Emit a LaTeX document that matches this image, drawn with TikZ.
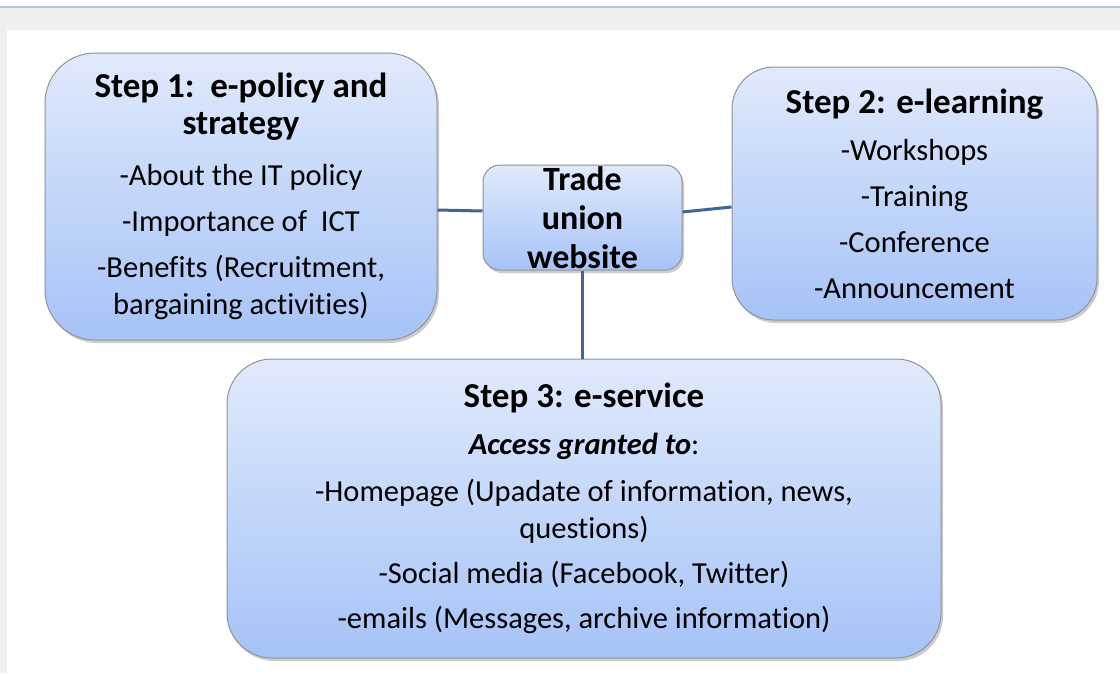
\documentclass[tikz,border=0pt]{standalone}
\usepackage{fontspec}
\setmainfont{Carlito}[Ligatures={TeX,NoCommon}]
\usetikzlibrary{shadows}
\definecolor{boxtop}{HTML}{E0EAFC}
\definecolor{boxbot}{HTML}{A6C3F7}
\definecolor{linkblue}{HTML}{3E6697}
\definecolor{pagegray}{HTML}{F0EFED}
\definecolor{topline}{HTML}{A9C2EE}
\tikzstyle{stepbox}=[rectangle, draw=gray!85, line width=1pt, top color=boxtop, bottom color=boxbot, align=center, inner sep=0, drop shadow={opacity=0.4, shadow xshift=2pt, shadow yshift=-3pt}]
\tikzstyle{link}=[linkblue, line width=3pt]
\newcommand{\ttl}{\fontsize{35}{37}\selectfont\bfseries}
\newcommand{\txt}{\fontsize{30.5}{37}\selectfont}
\newcommand{\hub}{\fontsize{34}{39}\selectfont\bfseries}

\begin{document}
\begin{tikzpicture}[x=1pt,y=-1pt]
\useasboundingbox (0,0) rectangle (1120,673);
\fill[pagegray] (0,7) rectangle (1120,673);
\fill[white] (7,30) rectangle (1120,673);
\draw[topline, line width=2pt] (0,7) -- (1120,7);

\node[stepbox, font=\txt, rounded corners=50, minimum width=392, minimum height=287] (pol) at (241,196.5)
  {\ttl Step 1:\ \ e-policy and\\ \ttl strategy\\[14pt]
   -About the IT policy\\[9pt]
   -Importance of\ \ ICT\\[9pt]
   -Benefits (Recruitment,\\ bargaining activities)};
\node[stepbox, rounded corners=17, minimum width=199, minimum height=105,
  label={[font=\hub, align=center]center:Trade\\union\\website}] (web) at (582.5,217.5) {};
\node[stepbox, font=\txt, rounded corners=42, minimum width=365, minimum height=253] (lrn) at (914.5,193.5)
  {\ttl Step 2: e-learning\\[10pt]
   -Workshops\\[9pt] -Training\\[9pt] -Conference\\[9pt] -Announcement};
\node[stepbox, font=\txt, rounded corners=45, minimum width=714, minimum height=299] (srv) at (584,508.5)
  {\ttl Step 3: e-service\\[10pt]
   \textbf{\textit{Access granted to}}:\\[10pt]
   -Homepage (Upadate of information, news,\\ questions)\\[8pt]
   -Social media (Facebook, Twitter)\\[8pt]
   -emails (Messages, archive information)};

% links to the hub
\draw[link] ([yshift=-13.5pt]pol.east) -- ([yshift=6.5pt]web.west);
\draw[link] ([yshift=5.5pt]web.east) -- ([yshift=-13.5pt]lrn.west);
\draw[link] (web.south) -- (web.south |- srv.north);
\end{tikzpicture}
\end{document}
